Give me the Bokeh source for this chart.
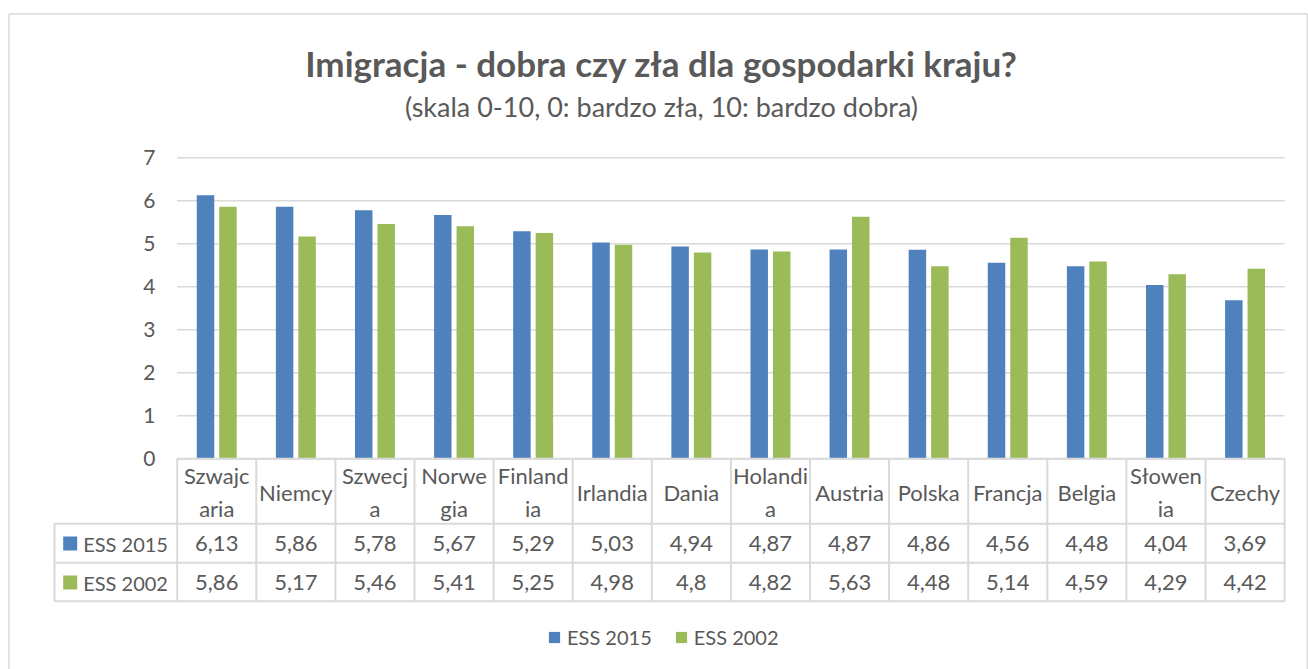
import numpy as np
from bokeh.plotting import figure
from bokeh.models import Range1d, Label, Legend, LegendItem
from bokeh.embed import file_html
from bokeh.resources import INLINE
from bokeh.core.properties import value

# ---------------- data ----------------
categories = ["Szwajcaria", "Niemcy", "Szwecja", "Norwegia", "Finlandia", "Irlandia", "Dania",
              "Holandia", "Austria", "Polska", "Francja", "Belgia", "Słowenia", "Czechy"]
category_labels = ["Szwajc\naria", "Niemcy", "Szwecj\na", "Norwe\ngia", "Finland\nia", "Irlandia", "Dania",
                   "Holandi\na", "Austria", "Polska", "Francja", "Belgia", "Słowen\nia", "Czechy"]
ess_2015 = [6.13, 5.86, 5.78, 5.67, 5.29, 5.03, 4.94, 4.87, 4.87, 4.86, 4.56, 4.48, 4.04, 3.69]
ess_2002 = [5.86, 5.17, 5.46, 5.41, 5.25, 4.98, 4.80, 4.82, 5.63, 4.48, 5.14, 4.59, 4.29, 4.42]
series_names = ["ESS 2015", "ESS 2002"]
y_ticks = [0, 1, 2, 3, 4, 5, 6, 7]
title_text = "Imigracja - dobra czy zła dla gospodarki kraju?"
subtitle_text = "(skala 0-10, 0: bardzo zła, 10: bardzo dobra)"

# ---------------- layout (page pixels) ----------------
FIG_W, FIG_H = 1308, 669
BORDER_L, BORDER_T, BORDER_R = 8.5, 13.5, 1307
PLOT_L = 176.7
CAT_W = 79.1
ZERO_Y = 458.3
UNIT_PX = 43.0

def ux(px):
    return (px - PLOT_L) / CAT_W

def vy(py):
    return (ZERO_Y - py) / UNIT_PX

BLUE = "#4f81bd"
GREEN = "#9bbb59"
TXT = "#595959"
LINE = "#d9d9d9"
FONT = "Lato"

n = len(categories)
idx = np.arange(n)

p = figure(width=FIG_W, height=FIG_H,
           x_range=Range1d(ux(0), ux(FIG_W)),
           y_range=Range1d(vy(FIG_H), vy(0)),
           min_border_left=0, min_border_right=0, min_border_top=0, min_border_bottom=0,
           x_axis_type=None, y_axis_type=None,
           output_backend="svg", toolbar_location=None,
           outline_line_color=None)
p.background_fill_color = "white"

# chart-area border (bottom edge lies outside the picture)
p.segment(x0=[ux(BORDER_L), ux(BORDER_L), ux(BORDER_R)],
          x1=[ux(BORDER_L), ux(BORDER_R), ux(BORDER_R)],
          y0=[vy(FIG_H + 5), vy(BORDER_T), vy(BORDER_T)],
          y1=[vy(BORDER_T), vy(BORDER_T), vy(FIG_H + 5)],
          line_color=LINE, line_width=1.5)

# gridlines
p.segment(x0=0, x1=n, y0=y_ticks, y1=y_ticks, line_color=LINE, line_width=1.5)

# bars
off, bw = 0.142, 0.221
r1 = p.vbar(x=idx + 0.5 - off, top=ess_2015, bottom=0, width=bw, fill_color=BLUE, line_color=None)
r2 = p.vbar(x=idx + 0.5 + off, top=ess_2002, bottom=0, width=bw, fill_color=GREEN, line_color=None)

# y tick labels
p.text(x=ux(155), y=y_ticks, text=[str(t) for t in y_ticks], text_align="right",
       text_baseline="middle", text_font=value(FONT), text_font_size="21px", text_color=TXT)

# data table
v_head = vy(523.3)
v_row1 = vy(562.3)
v_row2 = vy(600.7)
u_leg = ux(54)
vx = list(range(n + 1))
p.segment(x0=vx, x1=vx, y0=0, y1=v_row2, line_color=LINE, line_width=2)
p.segment(x0=u_leg, x1=u_leg, y0=v_head, y1=v_row2, line_color=LINE, line_width=2)
p.segment(x0=[0, u_leg, u_leg, u_leg], x1=n, y0=[0, v_head, v_row1, v_row2],
          y1=[0, v_head, v_row1, v_row2], line_color=LINE, line_width=2)

p.text(x=idx + 0.5, y=vy(491.5), text=category_labels, text_align="center", text_baseline="middle",
       text_font=value(FONT), text_font_size="22px", text_color=TXT, text_line_height=1.25)

def fmt(v):
    return f"{v:g}".replace(".", ",")

row_y = [vy(543), vy(582)]
for vals, yy in zip([ess_2015, ess_2002], row_y):
    p.text(x=idx + 0.5, y=yy, text=[fmt(v) for v in vals], text_align="center", text_baseline="middle",
           text_font=value(FONT), text_font_size="22px", text_color=TXT)

p.scatter(x=ux(69.7), y=row_y, marker="square", size=14, fill_color=[BLUE, GREEN], line_color=None)
p.text(x=ux(82.7), y=row_y, text=series_names, text_align="left", text_baseline="middle",
       text_font=value(FONT), text_font_size="20px", text_color=TXT)

# title & subtitle
p.add_layout(Label(x=ux(661), y=vy(62), text=title_text, text_align="center", text_baseline="middle",
                   text_font=FONT, text_font_style="bold", text_font_size="35px", text_color=TXT))
p.add_layout(Label(x=ux(661), y=vy(106), text=subtitle_text, text_align="center", text_baseline="middle",
                   text_font=FONT, text_font_size="27px", text_color=TXT))

# legend
legend = Legend(items=[LegendItem(label=series_names[0], renderers=[r1]),
                       LegendItem(label=series_names[1], renderers=[r2])],
                orientation="horizontal", location=(547, 20),
                glyph_width=14, glyph_height=14, label_standoff=6, spacing=22,
                padding=0, margin=0, border_line_color=None, background_fill_alpha=0,
                label_text_font=FONT, label_text_font_size="20px", label_text_color=TXT)
p.add_layout(legend)

open("out.html", "w").write(file_html(p, INLINE))
